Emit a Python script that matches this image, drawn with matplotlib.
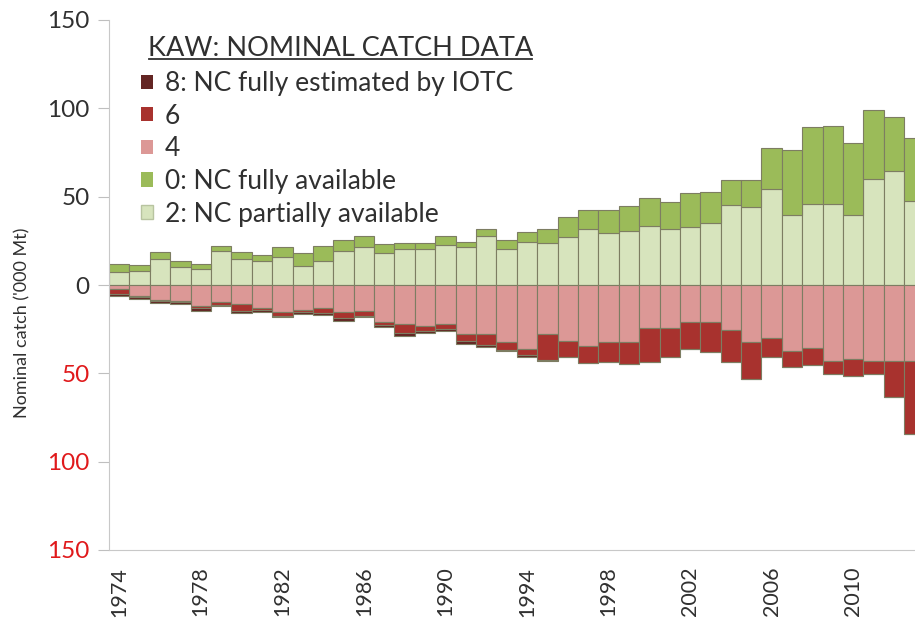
import numpy as np
import matplotlib
matplotlib.use("Agg")
import matplotlib.pyplot as plt
from matplotlib.patches import Patch
from matplotlib.lines import Line2D
from matplotlib.transforms import IdentityTransform

plt.rcParams['font.family'] = ['Lato', 'DejaVu Sans']

# Data ('000 t)
years = np.arange(1974, 2014)

# positive side: 2 = partially available (bottom), 0 = fully available (top)
nc2 = [7.4, 8.0, 14.7, 10.0, 9.0, 19.0, 14.7, 13.8, 15.7, 10.9,
       13.4, 19.0, 21.3, 18.1, 20.2, 20.4, 22.6, 21.3, 27.9, 20.4,
       24.5, 23.8, 27.0, 31.7, 29.4, 30.4, 33.4, 31.7, 32.7, 35.1,
       45.3, 44.0, 54.3, 39.6, 45.8, 45.8, 39.6, 60.0, 64.7, 47.7]
nc0 = [4.5, 3.5, 4.1, 3.8, 2.9, 3.3, 3.8, 3.3, 5.6, 7.0,
       8.9, 6.6, 6.2, 5.1, 3.8, 3.4, 5.3, 3.2, 3.8, 5.2,
       5.3, 7.9, 11.3, 10.9, 13.2, 14.1, 16.1, 15.4, 19.6, 17.7,
       14.1, 15.4, 23.1, 37.0, 43.4, 44.4, 40.8, 39.2, 30.2, 35.5]

# negative side: 4 next to zero, then 6, then 8
nc4 = [2.0, 6.4, 8.5, 9.1, 11.7, 9.8, 10.8, 13.0, 15.5, 14.0,
       13.2, 15.5, 14.5, 20.8, 22.1, 23.0, 22.1, 27.7, 27.7, 32.1,
       36.2, 27.7, 31.5, 34.3, 32.4, 32.4, 24.5, 24.5, 20.8, 21.1,
       25.3, 32.4, 30.2, 37.2, 35.8, 42.8, 41.9, 42.8, 42.8, 42.8]
nc6 = [2.9, 0.5, 0.7, 0.7, 1.3, 1.3, 3.7, 1.1, 1.8, 1.4,
       2.8, 3.2, 2.8, 2.1, 5.1, 3.2, 2.8, 4.2, 6.1, 4.6,
       3.7, 14.6, 9.4, 9.8, 11.4, 12.3, 19.3, 16.4, 15.4, 17.0,
       18.5, 20.8, 10.7, 9.4, 9.5, 7.6, 9.4, 7.6, 20.8, 41.5]
nc8 = [1.5, 1.0, 1.0, 1.0, 1.5, 1.0, 1.5, 1.0, 1.0, 1.0,
       1.0, 1.5, 1.0, 1.0, 1.5, 1.0, 1.0, 1.5, 1.5, 0.5,
       1.0, 0.5, 0, 0, 0, 0, 0, 0, 0, 0,
       0, 0, 0, 0, 0, 0, 0, 0, 0, 0]

yticks = [-150, -100, -50, 0, 50, 100, 150]
xticks = np.arange(1974, 2014, 4)

# colours
c2 = '#d7e4bd'
c0 = '#9bbb59'
c4 = '#dc9896'
c6 = '#a8322e'
c8 = '#632523'
edge = '#7d7d62'
txt = '#303030'

fig = plt.figure(figsize=(9.15, 6.18), dpi=100, facecolor='white')
ax = fig.add_axes([109/915, 68/618, 836/915, 530/618])

nc2 = np.array(nc2); nc0 = np.array(nc0)
nc4 = np.array(nc4); nc6 = np.array(nc6); nc8 = np.array(nc8)

kw = dict(width=1.0, edgecolor=edge, linewidth=0.8)
ax.bar(years, nc2, color=c2, **kw)
ax.bar(years, nc0, bottom=nc2, color=c0, **kw)
ax.bar(years, -nc4, color=c4, **kw)
ax.bar(years, -nc6, bottom=-nc4, color=c6, **kw)
ax.bar(years, -nc8, bottom=-(nc4 + nc6), color=c8, **kw)

ax.set_xlim(1973.5, 2014.5)
ax.set_ylim(-150, 150)
ax.set_yticks(yticks)
ax.set_yticklabels([str(abs(v)) for v in yticks])
for lab, v in zip(ax.get_yticklabels(), yticks):
    lab.set_color('#e0191b' if v < 0 else txt)
ax.set_xticks(xticks)
ax.set_xticklabels([str(y) for y in xticks], rotation=90)

ax.tick_params(axis='y', length=8, width=0.8, color='#bfbfbf', labelsize=17.5, pad=6)
ax.tick_params(axis='x', length=0, labelsize=15.5, pad=12, labelcolor=txt)
for s in ['top', 'right']:
    ax.spines[s].set_visible(False)
ax.spines['left'].set_color('#c8c8c8')
ax.spines['bottom'].set_color('#c8c8c8')
ax.spines['left'].set_linewidth(0.8)
ax.spines['bottom'].set_linewidth(0.8)

ax.set_ylabel("Nominal catch ('000 Mt)", fontsize=13, color=txt)
ax.yaxis.set_label_coords((30 - 109) / 836, (618 - 323 - 68) / 530)

handles = [Patch(facecolor=c8, edgecolor='none'),
           Patch(facecolor=c6, edgecolor='none'),
           Patch(facecolor=c4, edgecolor='none'),
           Patch(facecolor=c0, edgecolor='none'),
           Patch(facecolor=c2, edgecolor='#b8c4a0')]
labels = ['8: NC fully estimated by IOTC', '6', '4',
          '0: NC fully available', '2: NC partially available']
leg = fig.legend(handles, labels, loc='upper left',
                 bbox_to_anchor=(141/915, 1 - 71/618), bbox_transform=fig.transFigure,
                 frameon=False, fontsize=19, handlelength=0.45,
                 handleheight=0.45, handletextpad=0.45, labelspacing=0.29,
                 borderaxespad=0, borderpad=0)
for t in leg.get_texts():
    t.set_color(txt)

title = fig.text(148/915, 1 - 48/618, 'KAW: NOMINAL CATCH DATA', fontsize=19.5,
                 color=txt, ha='left', va='center')

# underline the legend title
fig.canvas.draw()
bb = title.get_window_extent()
fig.add_artist(Line2D([bb.x0 + 1, bb.x1 - 1], [bb.y0 + 2, bb.y0 + 2],
                      transform=IdentityTransform(), color=txt, lw=1.3))

fig.savefig('out.png', dpi=100)
